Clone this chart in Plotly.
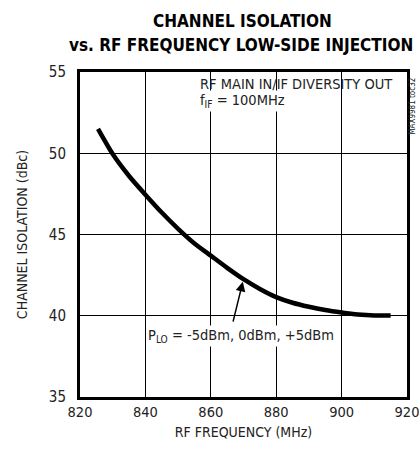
import plotly.graph_objects as go

# datos
freq_mhz = [825.5, 830, 835, 840, 845, 850, 855, 860, 865, 870, 875, 880, 885, 890, 895, 900, 905, 910, 915]
aislamiento_dbc = [51.5, 49.95, 48.6, 47.45, 46.35, 45.35, 44.45, 43.7, 42.95, 42.25, 41.65, 41.15, 40.8, 40.55, 40.35, 40.2, 40.08, 40.02, 40.02]

x_ticks = [820, 840, 860, 880, 900, 920]
y_ticks = [35, 40, 45, 50, 55]

FUENTE = "DejaVu Sans Condensed, Liberation Sans Narrow, Arial, sans-serif"
FUENTE_TITULO = "DejaVu Sans Condensed, Arial, sans-serif"

fig = go.Figure()

fig.add_trace(go.Scatter(
    x=freq_mhz,
    y=aislamiento_dbc,
    mode="lines",
    line=dict(color="black", width=4.5, shape="spline", smoothing=0.6),
    showlegend=False,
    hoverinfo="skip",
))

# titulo en dos lineas
fig.add_annotation(
    x=0.497, y=1.157, xref="paper", yref="paper",
    text="<b>CHANNEL ISOLATION</b>",
    showarrow=False, xanchor="center", yanchor="middle",
    font=dict(size=17, color="black", family=FUENTE_TITULO),
)
fig.add_annotation(
    x=0.492, y=1.083, xref="paper", yref="paper",
    text="<b>vs. RF FREQUENCY LOW-SIDE INJECTION</b>",
    showarrow=False, xanchor="center", yanchor="middle",
    font=dict(size=17, color="black", family=FUENTE_TITULO),
)

# textos dentro del grafico
fig.add_annotation(
    x=0.963, y=0.963, xref="paper", yref="paper",
    text="RF MAIN IN/IF DIVERSITY OUT",
    showarrow=False, xanchor="right", yanchor="middle",
    font=dict(size=14.5, color="#222"),
)
fig.add_annotation(
    x=0.362, y=0.912, xref="paper", yref="paper",
    text="f<sub>IF</sub> = 100MHz",
    showarrow=False, xanchor="left", yanchor="middle",
    font=dict(size=14.5, color="#222"),
    bgcolor="white",
)
fig.add_annotation(
    x=869.8, y=42.1, ax=866.7, ay=39.55,
    xref="x", yref="y", axref="x", ayref="y",
    text="",
    showarrow=True, arrowhead=2, arrowsize=1.3, arrowwidth=1.5, arrowcolor="black",
)
fig.add_annotation(
    x=840.2, y=38.75, xref="x", yref="y",
    text="P<sub>LO</sub> = -5dBm, 0dBm, +5dBm",
    showarrow=False, xanchor="left", yanchor="middle",
    font=dict(size=14.5, color="#222"),
    bgcolor="white",
)
fig.add_annotation(
    x=1.018, y=0.99, xref="paper", yref="paper",
    text="MAX9981 toc32",
    textangle=-90, showarrow=False, xanchor="center", yanchor="top",
    font=dict(size=8, color="#222"),
)

fig.update_layout(
    width=419,
    height=454,
    margin=dict(l=80, r=12, t=72, b=57, autoexpand=False),
    plot_bgcolor="white",
    paper_bgcolor="white",
    font=dict(family=FUENTE, size=14, color="#222"),
    showlegend=False,
)

fig.update_xaxes(
    range=[820, 920],
    tickvals=x_ticks,
    ticktext=[str(v) for v in x_ticks],
    showgrid=True, gridcolor="black", gridwidth=1,
    showline=True, linecolor="black", linewidth=3, mirror=True,
    ticks="", zeroline=False, automargin=False,
    tickfont=dict(size=14.5),
    ticklabeloverflow="allow",
    title=dict(text="RF FREQUENCY (MHz)", font=dict(size=14), standoff=8),
)
fig.update_yaxes(
    range=[35, 55],
    tickvals=y_ticks,
    ticktext=[str(v) for v in y_ticks],
    showgrid=True, gridcolor="black", gridwidth=1,
    showline=True, linecolor="black", linewidth=3, mirror=True,
    ticks="", zeroline=False, automargin=False,
    tickfont=dict(size=15),
    ticklabelstandoff=8,
    title=dict(text="CHANNEL ISOLATION (dBc)", font=dict(size=14), standoff=18),
)

# quitar el margen por defecto del body para que la figura quede en (0, 0)
fig.write_html(
    "out.html",
    config={"displayModeBar": False},
    post_script="document.body.style.margin='0';document.body.style.overflow='hidden';",
)
